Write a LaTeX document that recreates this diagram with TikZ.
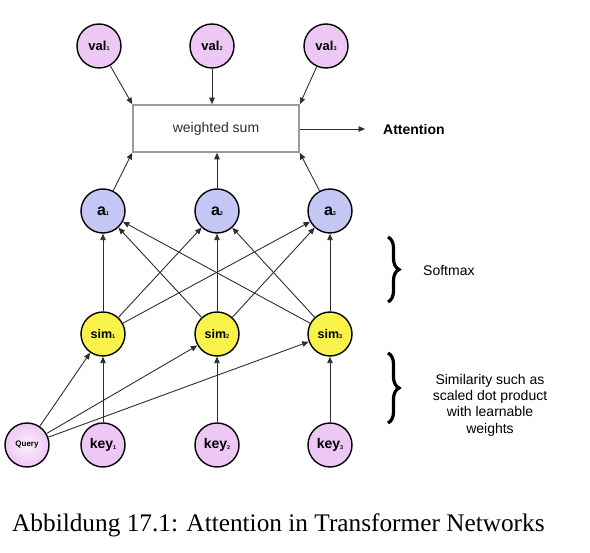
\documentclass[tikz,border=0pt]{standalone}
\usepackage{fontspec}
\setmainfont{Liberation Serif}
\setsansfont{Liberation Sans}
\usetikzlibrary{arrows.meta,decorations.pathreplacing}
\definecolor{pinkc}{HTML}{EEC8F5}
\definecolor{bluec}{HTML}{C4C6F4}
\definecolor{yelc}{HTML}{F8F24A}
\definecolor{edgec}{HTML}{2E2E2E}
\definecolor{boxc}{HTML}{9A9A9A}
\newcommand{\sbs}[1]{\raisebox{-0.4pt}{\fontsize{5.5}{5.5}\selectfont #1}}
\tikzset{
  circ/.style={circle, draw=black, line width=1.4pt, minimum size=44pt, inner sep=0pt, font=\sffamily\bfseries},
  valn/.style={circ, fill=pinkc, font=\sffamily\bfseries\fontsize{13}{13}\selectfont},
  keyn/.style={circ, fill=pinkc, font=\sffamily\bfseries\fontsize{14}{14}\selectfont},
  an/.style={circ, fill=bluec, font=\sffamily\bfseries\fontsize{16}{16}\selectfont},
  simn/.style={circ, fill=yelc, font=\sffamily\bfseries\fontsize{12.5}{12.5}\selectfont},
  queryn/.style={circ, inner color=pinkc!25, outer color=pinkc, font=\sffamily\bfseries\fontsize{8}{8}\selectfont},
  conn/.style={draw=edgec, line width=0.9pt, -{Triangle[length=6.5pt,width=5.5pt]}},
  lbl/.style={font=\sffamily\fontsize{14}{16.3}\selectfont, inner sep=0pt},
  bracel/.style={decorate, decoration={brace, amplitude=11pt}, line width=3.2pt}
}
\begin{document}
\begin{tikzpicture}[x=1pt,y=-1pt]
\useasboundingbox (0,0) rectangle (590,553);
% values
\node[valn] (val1) at (99,46) {val\sbs{1}};
\node[valn] (val2) at (212,46) {val\sbs{2}};
\node[valn] (val3) at (326,46) {val\sbs{3}};
% weighted sum box
\node[draw=boxc, line width=1.6pt, minimum width=166pt, minimum height=47pt, inner sep=0pt,
      font=\sffamily\fontsize{14}{14}\selectfont, text=edgec] (box) at (216,128.5) {weighted sum};
\node[font=\sffamily\bfseries\fontsize{14}{14}\selectfont, anchor=west, inner sep=0pt] (att) at (383,129) {Attention};
\coordinate (attend) at (365,129);
% a nodes
\node[an] (a1) at (103,211) {a\sbs{1}};
\node[an] (a2) at (217,211) {a\sbs{2}};
\node[an] (a3) at (330,211) {a\sbs{3}};
% sim nodes
\node[simn] (sim1) at (103,334) {sim\sbs{1}};
\node[simn] (sim2) at (217,334) {sim\sbs{2}};
\node[simn] (sim3) at (330,334) {sim\sbs{3}};
% bottom
\node[queryn] (query) at (27,445) {Query};
\node[keyn] (key1) at (103,445) {key\sbs{1}};
\node[keyn] (key2) at (217,445) {key\sbs{2}};
\node[keyn] (key3) at (330,445) {key\sbs{3}};
% connectors
\draw[conn] (val1) -- (box.north west);
\draw[conn] (val2) -- (val2 |- box.north);
\draw[conn] (val3) -- (box.north east);
\draw[conn] (a1) -- (box.south west);
\draw[conn] (a2) -- (a2 |- box.south);
\draw[conn] (a3) -- (box.south east);
\draw[conn] (box.east |- attend) -- (attend);
\foreach \i in {1,2,3}{
  \foreach \j in {1,2,3}{
    \draw[conn] (sim\i) -- (a\j);
  }
  \draw[conn] (query) -- (sim\i);
  \draw[conn] (key\i) -- (sim\i);
}
% braces and labels
\draw[bracel] (388,237) -- (388,302);
\node[lbl, anchor=west] (soft) at (423,271) {Softmax};
\draw[bracel] (388,353) -- (388,423);
\node[lbl, align=center] (simtxt) at (490,405) {Similarity such as\\scaled dot product\\with learnable\\weights};
% caption
\node[anchor=base west, inner sep=0pt, font=\fontsize{25.3}{25.3}\selectfont] (cap) at (12,532) {Abbildung 17.1: Attention in Transformer Networks};
\end{tikzpicture}
\end{document}
